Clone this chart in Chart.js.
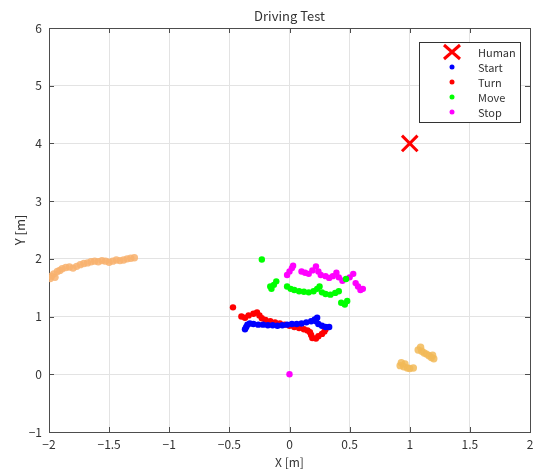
<!DOCTYPE html>
<html>
<head>
<meta charset="utf-8">
<script src="https://cdn.jsdelivr.net/npm/chart.js@4/dist/chart.umd.min.js"></script>
<style>
  html, body { margin: 0; padding: 0; background: #fff; }
  #chart { display: block; }
</style>
</head>
<body>
<canvas id="chart" width="533" height="470"></canvas>
<script>
const chartTitle = 'Driving Test';
const xTitle = 'X [m]';
const yTitle = 'Y [m]';

const humanPos = [{ x: 1.0, y: 4.0 }];

const startPts = [
  [-0.37, 0.78], [-0.36, 0.82], [-0.35, 0.86], [-0.33, 0.88], [-0.30, 0.87], [-0.26, 0.86],
  [-0.22, 0.86], [-0.18, 0.85], [-0.14, 0.85], [-0.10, 0.84], [-0.06, 0.85], [-0.02, 0.86],
  [0.02, 0.87], [0.06, 0.87], [0.10, 0.88], [0.14, 0.90], [0.18, 0.92], [0.21, 0.95],
  [0.23, 0.98], [0.22, 0.92], [0.24, 0.87], [0.27, 0.84], [0.30, 0.82], [0.33, 0.82]
];

const turnPts = [
  [-0.47, 1.16], [-0.40, 1.00], [-0.37, 0.98], [-0.34, 1.02], [-0.30, 1.05], [-0.27, 1.07],
  [-0.25, 1.02], [-0.23, 0.97], [-0.20, 0.94], [-0.16, 0.92], [-0.12, 0.90], [-0.08, 0.88],
  [-0.04, 0.86], [0.00, 0.84], [0.04, 0.82], [0.08, 0.80], [0.12, 0.78], [0.15, 0.76],
  [0.17, 0.73], [0.18, 0.68], [0.19, 0.63], [0.22, 0.62], [0.24, 0.66], [0.27, 0.70],
  [0.29, 0.74], [0.30, 0.78]
];

const movePts = [
  [-0.23, 1.99], [-0.16, 1.52], [-0.15, 1.48], [-0.13, 1.55], [-0.11, 1.61], [-0.02, 1.52],
  [0.01, 1.48], [0.04, 1.46], [0.08, 1.44], [0.12, 1.43], [0.16, 1.42], [0.20, 1.44],
  [0.23, 1.48], [0.25, 1.52], [0.27, 1.42], [0.30, 1.39], [0.34, 1.38], [0.38, 1.41],
  [0.41, 1.44], [0.43, 1.24], [0.46, 1.21], [0.48, 1.27], [0.47, 1.65]
];

const stopPts = [
  [-0.02, 1.72], [0.00, 1.78], [0.02, 1.84], [0.03, 1.88], [0.10, 1.78], [0.13, 1.76],
  [0.16, 1.74], [0.19, 1.80], [0.22, 1.87], [0.24, 1.78], [0.26, 1.72], [0.30, 1.70],
  [0.33, 1.67], [0.36, 1.70], [0.39, 1.76], [0.41, 1.68], [0.44, 1.62], [0.50, 1.68],
  [0.53, 1.74], [0.55, 1.58], [0.57, 1.52], [0.59, 1.46], [0.61, 1.48], [0.00, 0.00]
];

const otherLeftPts = [
  [-1.99, 1.66], [-1.98, 1.70], [-1.96, 1.74], [-1.95, 1.68], [-1.93, 1.78], [-1.91, 1.80],
  [-1.89, 1.83], [-1.86, 1.85], [-1.83, 1.86], [-1.80, 1.84], [-1.77, 1.87], [-1.74, 1.90],
  [-1.71, 1.92], [-1.68, 1.93], [-1.65, 1.95], [-1.62, 1.96], [-1.59, 1.95], [-1.56, 1.97],
  [-1.53, 1.96], [-1.50, 1.94], [-1.47, 1.96], [-1.44, 1.98], [-1.41, 1.97], [-1.38, 1.98],
  [-1.35, 2.00], [-1.32, 2.01], [-1.29, 2.02]
];

const otherRightPts = [
  [0.92, 0.15], [0.93, 0.20], [0.95, 0.13], [0.96, 0.18], [0.98, 0.11], [1.00, 0.10],
  [1.03, 0.11], [1.07, 0.42], [1.09, 0.47], [1.10, 0.40], [1.12, 0.37], [1.14, 0.35],
  [1.16, 0.32], [1.18, 0.29], [1.20, 0.27], [1.19, 0.33]
];

const toXY = arr => arr.map(p => ({ x: p[0], y: p[1] }));
const FONT = '"Noto Sans CJK JP", "DejaVu Sans", sans-serif';
const TXT = '#333';

function dots(label, pts, color, r) {
  return {
    label: label,
    data: toXY(pts),
    backgroundColor: color,
    borderColor: color,
    borderWidth: 0,
    pointRadius: r,
    pointHoverRadius: r
  };
}

// matlab-ish box, inward ticks, title and legend
const matlabDecor = {
  id: 'matlabDecor',
  afterLayout(chart) {
    // stretch plot area to the right edge (the label padding eats too much)
    const a = chart.chartArea, x = chart.scales.x;
    const right = chart.width - 3;
    a.right = right; a.width = right - a.left;
    x.right = right; x.width = right - x.left;
    x.configure();
  },
  beforeDatasetsDraw(chart) {
    const { ctx, chartArea: a, scales } = chart;
    ctx.save();
    ctx.strokeStyle = '#4d4d4d';
    ctx.lineWidth = 1;
    ctx.beginPath();
    scales.x.ticks.forEach(t => {
      const px = Math.round(scales.x.getPixelForValue(t.value)) + 0.5;
      ctx.moveTo(px, a.bottom); ctx.lineTo(px, a.bottom - 5);
      ctx.moveTo(px, a.top); ctx.lineTo(px, a.top + 5);
    });
    scales.y.ticks.forEach(t => {
      const py = Math.round(scales.y.getPixelForValue(t.value)) + 0.5;
      ctx.moveTo(a.left, py); ctx.lineTo(a.left + 5, py);
      ctx.moveTo(a.right, py); ctx.lineTo(a.right - 5, py);
    });
    ctx.stroke();
    ctx.strokeRect(Math.round(a.left) + 0.5, Math.round(a.top) + 0.5,
      Math.round(a.right - a.left), Math.round(a.bottom - a.top));
    ctx.restore();
  },
  afterDraw(chart) {
    const { ctx, chartArea: a } = chart;
    ctx.save();
    ctx.fillStyle = TXT;
    ctx.font = '13px ' + FONT;
    ctx.textAlign = 'center';
    ctx.textBaseline = 'middle';
    ctx.fillText(chartTitle, (a.left + a.right) / 2, 16);

    // legend box
    const bx = 419, by = 42, bw = 101, bh = 80;
    ctx.fillStyle = '#fff';
    ctx.fillRect(bx, by, bw, bh);
    ctx.strokeStyle = '#333';
    ctx.lineWidth = 1;
    ctx.strokeRect(bx + 0.5, by + 0.5, bw, bh);
    ctx.font = '11px ' + FONT;
    ctx.textAlign = 'left';
    chart.data.datasets.forEach(ds => {
      if (!ds.inLegend) return;
      const y = by + 10 + ds.legendRow * 15;
      const mx = bx + 33;
      if (ds.pointStyle === 'crossRot') {
        ctx.strokeStyle = ds.borderColor;
        ctx.lineWidth = 3;
        ctx.beginPath();
        ctx.moveTo(mx - 8, y - 7); ctx.lineTo(mx + 8, y + 7);
        ctx.moveTo(mx + 8, y - 7); ctx.lineTo(mx - 8, y + 7);
        ctx.stroke();
      } else {
        ctx.fillStyle = ds.backgroundColor;
        ctx.beginPath();
        ctx.arc(mx, y, 2.5, 0, Math.PI * 2);
        ctx.fill();
      }
      ctx.fillStyle = TXT;
      ctx.fillText(ds.label, bx + 59, y + 1);
    });
    ctx.restore();
  }
};

const datasets = [
  Object.assign(dots('', otherLeftPts, 'rgba(248,178,110,0.85)', 3.7), { inLegend: false }),
  Object.assign(dots('', otherRightPts, 'rgba(242,186,88,0.85)', 3.7), { inLegend: false }),
  Object.assign(dots('Start', startPts, '#0000ff', 3.2), { inLegend: true, legendRow: 1 }),
  Object.assign(dots('Turn', turnPts, '#ff0000', 3.2), { inLegend: true, legendRow: 2 }),
  Object.assign(dots('Move', movePts, '#00ff00', 3.2), { inLegend: true, legendRow: 3 }),
  Object.assign(dots('Stop', stopPts, '#ff00ff', 3.2), { inLegend: true, legendRow: 4 }),
  {
    label: 'Human',
    data: humanPos,
    pointStyle: 'crossRot',
    pointRadius: 11,
    pointHoverRadius: 11,
    borderColor: '#ff0000',
    backgroundColor: '#ff0000',
    borderWidth: 3,
    inLegend: true,
    legendRow: 0
  }
];

const minusFix = v => String(v).replace('-', '\u2212');

new Chart(document.getElementById('chart'), {
  type: 'scatter',
  data: { datasets: datasets },
  plugins: [matlabDecor],
  options: {
    responsive: false,
    animation: false,
    layout: { padding: { top: 28, right: 3, left: 0, bottom: 0 } },
    plugins: {
      legend: { display: false },
      title: { display: false },
      tooltip: { enabled: false }
    },
    scales: {
      x: {
        type: 'linear',
        min: -2, max: 2,
        ticks: {
          stepSize: 0.5,
          color: TXT,
          font: { family: FONT, size: 12 },
          padding: 5,
          maxRotation: 0,
          callback: v => minusFix(v)
        },
        grid: { color: '#e3e3e3', drawTicks: false },
        border: { display: false },
        title: {
          display: true,
          text: xTitle,
          color: TXT,
          font: { family: FONT, size: 12 },
          padding: { top: 0, bottom: 0 }
        },
        afterFit: s => { s.height = 38; }
      },
      y: {
        type: 'linear',
        min: -1, max: 6,
        ticks: {
          stepSize: 1,
          color: TXT,
          font: { family: FONT, size: 12 },
          padding: 7,
          callback: v => minusFix(v)
        },
        grid: { color: '#e3e3e3', drawTicks: false },
        border: { display: false },
        title: {
          display: true,
          text: yTitle,
          color: TXT,
          font: { family: FONT, size: 13 },
          padding: { top: 12, bottom: 0 }
        },
        afterFit: s => { s.width = 49; }
      }
    }
  }
});
</script>
</body>
</html>
